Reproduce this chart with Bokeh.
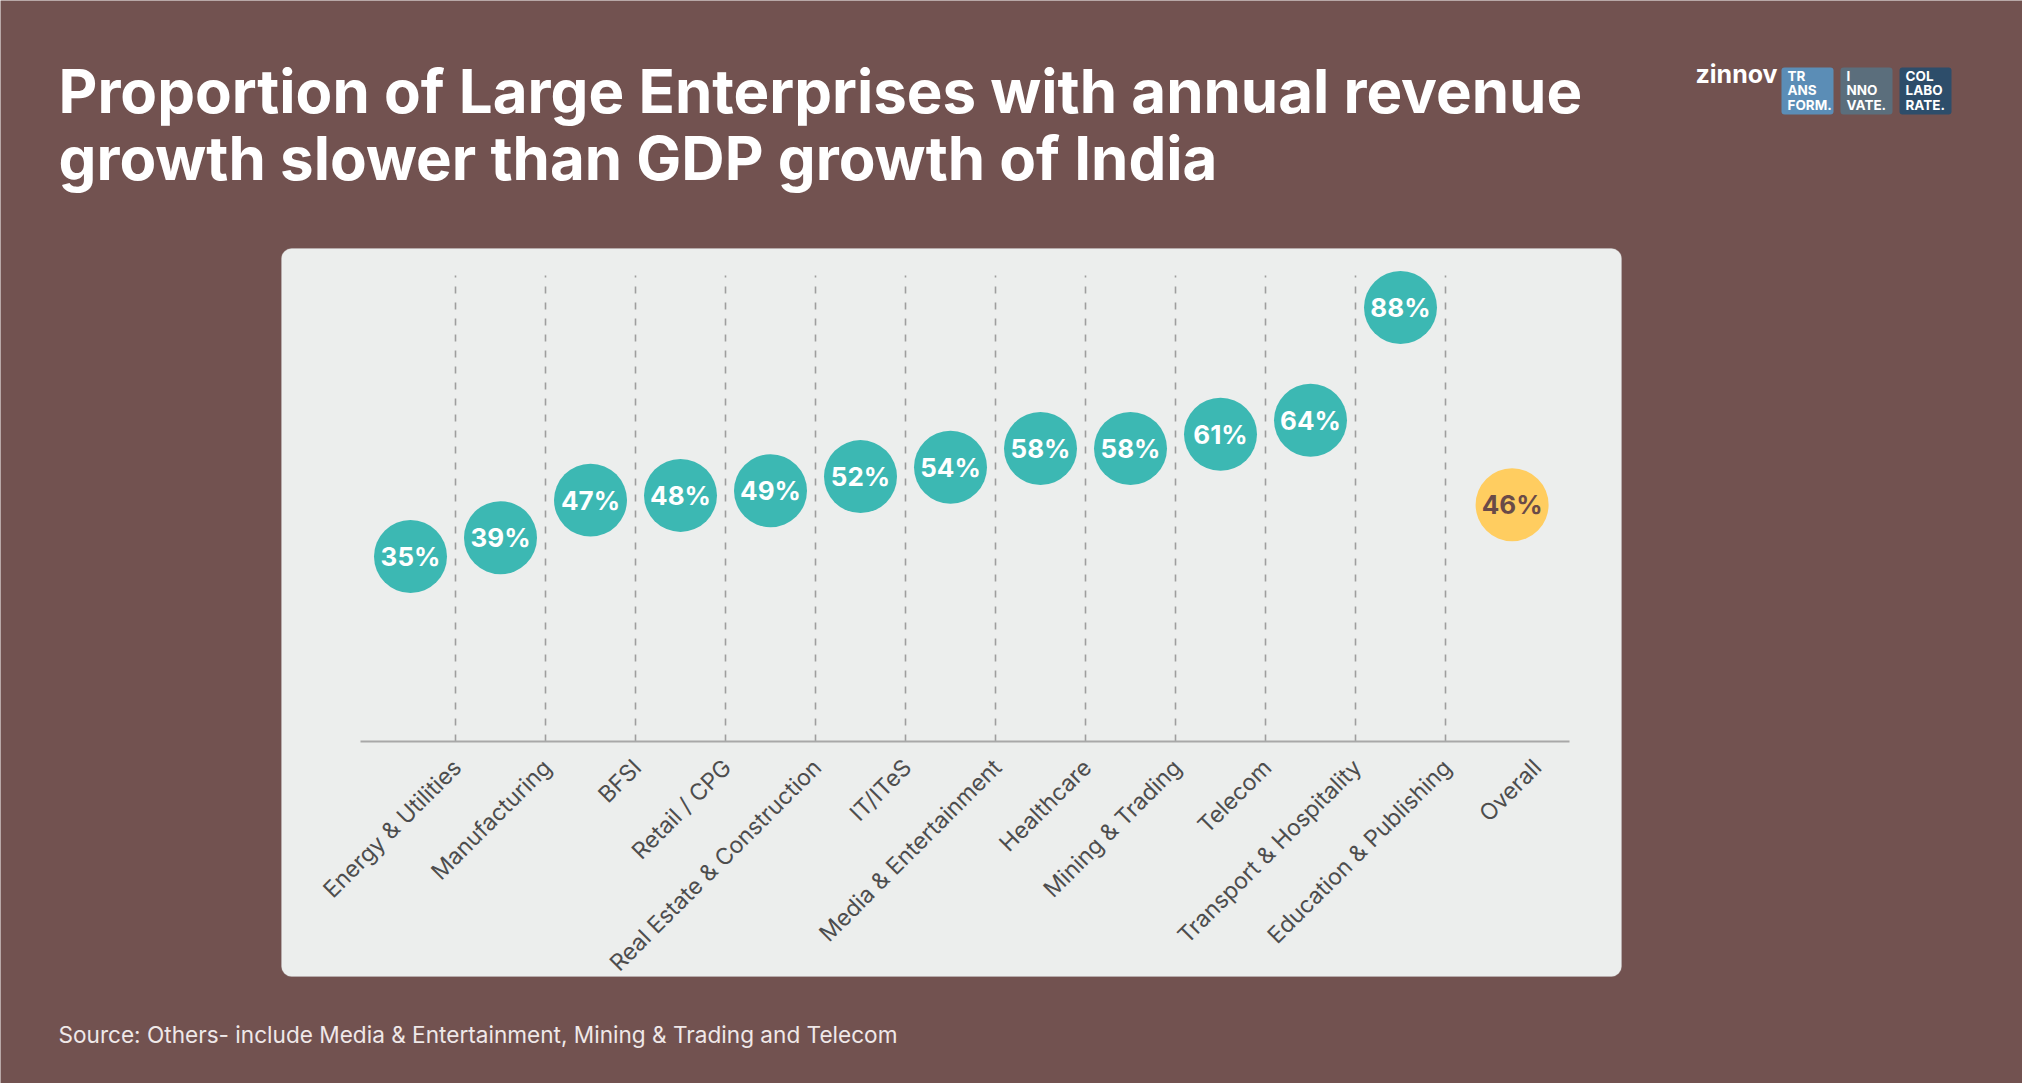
import math
from bokeh.plotting import figure
from bokeh.models import Range1d, BoxAnnotation, ColumnDataSource
from bokeh.core.properties import value
from bokeh.embed import file_html
from bokeh.resources import INLINE

# ---------------- data ----------------
categories = ["Energy & Utilities", "Manufacturing", "BFSI", "Retail / CPG",
              "Real Estate & Construction", "IT/ITeS", "Media & Entertainment",
              "Healthcare", "Mining & Trading", "Telecom", "Transport & Hospitality",
              "Education & Publishing", "Overall"]
values = [35, 39, 47, 48, 49, 52, 54, 58, 58, 61, 64, 88, 46]
title_lines = ["Proportion of Large Enterprises with annual revenue",
               "growth slower than GDP growth of India"]
source_note = "Source: Others- include Media & Entertainment, Mining & Trading and Telecom"
logo_word = "zinnov"
logo_boxes = [["TR", "ANS", "FORM."], ["I", "NNO", "VATE."], ["COL", "LABO", "RATE."]]

# ---------------- style ----------------
BROWN = "#725250"
PANEL = "#ECEEED"
TEAL = "#3CB8B3"
YELLOW = "#FFCD60"
LABEL_DARK = "#6A4B48"
GRID = "#9E9E9E"
AXIS = "#A8A8A8"
CAT_TXT = "#4D4D4D"
LOGO_COLORS = ["#5B8DB6", "#5B6E7C", "#2D4D6A"]
FONT = value("Inter")

W, H = 2022, 1083
X0, DX = 410.0, 90.0          # screen px of first category and spacing
OVERALL_GAP = 0.24            # extra separation of the summary bubble
Y_ZERO, PX_PER_PT = 720.4, 4.698  # screen px (from top) of 0 % and px per point
BASE_FIX = 0.377              # alphabetic baseline correction (fraction of font size)


def Y(py):
    return H - py


def YB(py, size):
    return H - (py - BASE_FIX * size)


def v_of_py(py):
    return (Y_ZERO - py) / PX_PER_PT


def i_of_px(px):
    return (px - X0) / DX


p = figure(width=W, height=H, x_range=Range1d(0, W), y_range=Range1d(0, H),
           x_axis_type=None, y_axis_type=None, min_border=0,
           toolbar_location=None, output_backend="svg",
           background_fill_color=BROWN, border_fill_color=BROWN,
           outline_line_color=None)
p.grid.visible = False

p.extra_x_ranges = {"cat": Range1d(i_of_px(0), i_of_px(W))}
p.extra_y_ranges = {"val": Range1d(v_of_py(H), v_of_py(0))}

# panel
p.add_layout(BoxAnnotation(left=281, right=1621, top=Y(248), bottom=Y(976),
                           fill_color=PANEL, fill_alpha=1, line_color="#C9C9C9",
                           line_width=1, border_radius=10, level="underlay"))

n = len(categories)
idx = list(range(n))

# dashed separators
mids = [i + 0.5 for i in range(n - 1)]
p.segment(x0=mids, x1=mids, y0=[v_of_py(741)] * len(mids), y1=[v_of_py(275)] * len(mids),
          x_range_name="cat", y_range_name="val",
          line_color=GRID, line_width=1.6, line_dash="7 9")

# axis line
p.segment(x0=[i_of_px(360)], x1=[i_of_px(1569)], y0=[v_of_py(741)], y1=[v_of_py(741)],
          x_range_name="cat", y_range_name="val", line_color=AXIS, line_width=2.2)

is_overall = [c == "Overall" for c in categories]
colors = [YELLOW if o else TEAL for o in is_overall]
txt_colors = [LABEL_DARK if o else "white" for o in is_overall]
bx = [i + (OVERALL_GAP if o else 0) for i, o in zip(idx, is_overall)]
src = ColumnDataSource(dict(x=bx, y=values, cat=categories, color=colors,
                            tcolor=txt_colors, lab=[f"{v}%" for v in values],
                            lx=[i + 0.52 for i in idx],
                            ly=[v_of_py(763)] * n))

p.scatter(x="x", y="y", source=src, size=73, marker="circle",
          fill_color="color", line_color=None,
          x_range_name="cat", y_range_name="val")
p.text(x="x", y="y", text="lab", source=src, text_color="tcolor",
       text_align="center", text_baseline="middle", text_font=FONT,
       text_font_size="26px", text_font_style="bold",
       x_range_name="cat", y_range_name="val")

p.text(x="lx", y="ly", text="cat", source=src, angle=math.pi / 4,
       text_align="right", text_baseline="middle", text_color=CAT_TXT,
       text_font=FONT, text_font_size="23px",
       x_range_name="cat", y_range_name="val")

# title
TS = 60
p.text(x=[58, 58], y=[YB(113, TS), YB(180, TS)], text=title_lines, text_color="white",
       text_font=FONT, text_font_size=f"{TS}px", text_font_style="bold",
       text_baseline="alphabetic", text_align="left")

# source
SS = 22.6
p.text(x=[58], y=[YB(1043, SS)], text=[source_note], text_color="#EFE8E8",
       text_font=FONT, text_font_size=f"{SS}px", text_baseline="alphabetic")

# logo
LS = 25
p.text(x=[1695], y=[YB(83, LS)], text=[logo_word], text_color="white", text_font=FONT,
       text_font_size=f"{LS}px", text_font_style="bold", text_baseline="alphabetic")
BS = 13.5
for k, (lines, col) in enumerate(zip(logo_boxes, LOGO_COLORS)):
    left = 1781 + k * 59
    p.add_layout(BoxAnnotation(left=left, right=left + 52, top=Y(67), bottom=Y(114),
                               fill_color=col, fill_alpha=1, line_color=None,
                               border_radius=3, level="underlay"))
    p.text(x=[left + 6] * 3, y=[YB(80.5, BS), YB(95, BS), YB(109.5, BS)], text=lines,
           text_color="white", text_font=FONT, text_font_size=f"{BS}px",
           text_font_style="bold", text_baseline="alphabetic")

open("out.html", "w").write(file_html(p, INLINE))
